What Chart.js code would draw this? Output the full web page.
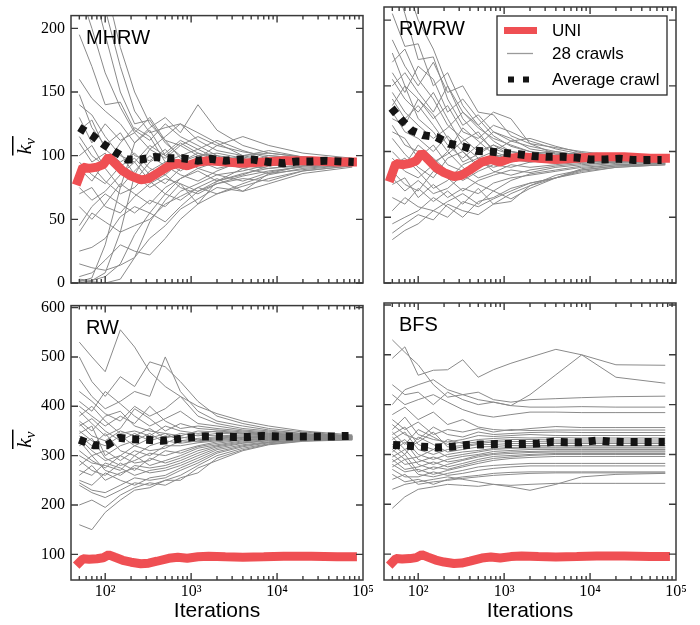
<!DOCTYPE html>
<html>
<head>
<meta charset="utf-8">
<script src="https://cdn.jsdelivr.net/npm/chart.js@4.4.0/dist/chart.umd.min.js"></script>
<style>
  body { margin: 0; background: #fff; width: 700px; height: 625px; position: relative; overflow: hidden; }
  canvas { position: absolute; }
</style>
</head>
<body>
<canvas id="cMHRW" width="385" height="300" style="left:0;top:0"></canvas>
<canvas id="cRWRW" width="324" height="300" style="left:376px;top:0"></canvas>
<canvas id="cRW" width="385" height="335" style="left:0;top:290px"></canvas>
<canvas id="cBFS" width="324" height="335" style="left:376px;top:290px"></canvas>
<script>
// iterations where the single crawls were sampled
const crawlX = [50, 70, 100, 150, 220, 330, 500, 750, 1200, 2000, 4000, 8000, 20000, 75000];

// UNI reference (same in every panel)
const uniX = [46, 55, 65, 80, 95, 110, 130, 160, 200, 260, 320, 400, 550, 700, 900, 1200, 1600, 2500, 4000, 7000, 12000, 25000, 50000, 85000];
const uniY = [77, 91, 90, 91, 93, 99, 94, 88, 84, 81, 82, 86, 92, 94, 92, 95, 96, 95, 94, 95, 96, 96, 95, 95];

// average crawl per panel
const mhrwAvgX = [50, 70, 95, 130, 180, 260, 380, 550, 800, 1200, 1700, 2500, 3600, 5300, 8000, 12000, 17000, 25000, 37000, 55000, 78000];
const mhrwAvgY = [122, 116, 109, 103, 97, 97, 99, 98, 98, 96, 97.5, 96, 97, 97, 95, 94, 95.5, 95.5, 96, 95.5, 95];
const rwrwAvgX = [49, 64, 84, 114, 164, 228, 330, 470, 684, 995, 1480, 2160, 3150, 4700, 6800, 10000, 14900, 21900, 32000, 47000, 68000];
const rwrwAvgY = [133, 124, 116, 112.5, 111, 106, 104, 100.6, 100, 99, 98, 96.6, 96, 96, 95.5, 94, 94, 94.6, 93.6, 93.6, 93.6];
const rwAvgX = [50, 74, 105, 145, 205, 306, 457, 660, 990, 1450, 2100, 3150, 4550, 6600, 10000, 14700, 21200, 31500, 46000, 68000];
const rwAvgY = [332, 321, 321, 336, 333, 332, 330, 333, 337, 339, 339, 338, 338, 340, 339, 339, 339, 339, 339, 340];
const bfsAvgX = [51, 76, 112, 164, 245, 366, 535, 790, 1170, 1700, 2500, 3750, 5400, 8000, 12000, 17000, 25000, 38000, 55000, 74000];
const bfsAvgY = [319, 317.5, 315.5, 314, 315.5, 319, 320, 321, 321, 321, 322, 325.5, 324.7, 324.7, 328, 326, 325, 325, 325, 325];

// 28 crawls per panel, values at crawlX
const mhrwCrawls = [
  [330, 290, 235, 185, 150, 125, 112, 108, 115, 108, 103, 100, 98, 96],
  [300, 260, 215, 170, 135, 118, 122, 125, 112, 104, 100, 102, 99, 97],
  [270, 235, 195, 150, 125, 128, 110, 100, 105, 112, 104, 98, 97, 95],
  [230, 200, 165, 138, 118, 105, 98, 108, 100, 95, 99, 95, 96, 94],
  [195, 170, 140, 142, 120, 112, 125, 115, 108, 100, 97, 94, 95, 95],
  [160, 145, 135, 125, 110, 122, 130, 118, 140, 120, 108, 102, 99, 97],
  [148, 122, 108, 118, 100, 96, 105, 92, 98, 108, 115, 108, 102, 98],
  [140, 132, 115, 100, 95, 108, 100, 110, 102, 96, 92, 98, 97, 96],
  [130, 110, 125, 112, 118, 130, 112, 98, 92, 95, 100, 96, 94, 95],
  [120, 128, 105, 95, 102, 90, 85, 95, 100, 102, 98, 93, 95, 96],
  [115, 100, 92, 110, 122, 115, 95, 88, 96, 90, 94, 100, 98, 97],
  [110, 95, 102, 88, 80, 95, 102, 112, 105, 98, 95, 92, 94, 94],
  [100, 108, 90, 75, 88, 100, 92, 85, 80, 88, 96, 98, 96, 95],
  [95, 85, 78, 92, 98, 85, 78, 90, 95, 100, 92, 90, 93, 94],
  [90, 80, 95, 102, 85, 75, 82, 78, 62, 80, 90, 95, 96, 95],
  [85, 92, 80, 70, 75, 88, 95, 100, 90, 85, 88, 93, 95, 96],
  [75, 65, 72, 85, 95, 80, 70, 65, 75, 82, 72, 86, 92, 94],
  [70, 75, 60, 55, 68, 78, 85, 75, 70, 78, 84, 88, 91, 93],
  [60, 50, 62, 78, 70, 62, 75, 82, 88, 80, 85, 92, 94, 95],
  [45, 60, 70, 62, 55, 65, 60, 72, 78, 85, 80, 87, 92, 94],
  [40, 55, 48, 40, 45, 50, 62, 68, 75, 70, 78, 85, 90, 93],
  [25, 28, 35, 52, 60, 55, 48, 60, 72, 78, 82, 80, 88, 92],
  [15, 12, 10, 14, 20, 35, 45, 58, 66, 75, 72, 78, 86, 91],
  [5, 8, 18, 30, 25, 22, 35, 50, 62, 70, 76, 82, 88, 92],
  [3, 2, 5, 15, 38, 55, 70, 82, 90, 95, 90, 86, 89, 93],
  [2, 1, 0, 3, 20, 48, 65, 78, 72, 80, 86, 90, 92, 94],
  [1, 4, 30, 75, 110, 120, 100, 95, 102, 98, 94, 97, 96, 95],
  [0, 2, 8, 40, 85, 105, 115, 125, 118, 110, 100, 104, 99, 97]
];
const rwrwCrawls = [
  [260, 230, 200, 178, 150, 130, 118, 110, 105, 100, 98, 96, 95, 94],
  [235, 205, 170, 172, 140, 120, 128, 115, 108, 104, 100, 97, 96, 95],
  [205, 180, 182, 150, 160, 135, 120, 130, 125, 106, 98, 99, 96, 94],
  [185, 165, 150, 168, 145, 150, 130, 128, 112, 106, 103, 100, 97, 95],
  [175, 150, 140, 125, 135, 115, 110, 120, 115, 108, 102, 98, 96, 95],
  [168, 178, 155, 140, 120, 110, 100, 105, 100, 98, 100, 97, 95, 94],
  [160, 145, 165, 155, 130, 140, 125, 112, 104, 100, 96, 95, 94, 93],
  [155, 140, 130, 145, 125, 105, 95, 100, 108, 110, 104, 99, 96, 95],
  [150, 160, 145, 130, 150, 125, 112, 102, 98, 95, 97, 96, 95, 94],
  [145, 130, 120, 110, 118, 130, 120, 108, 100, 97, 94, 93, 94, 94],
  [140, 125, 135, 120, 105, 95, 105, 115, 110, 102, 99, 97, 96, 95],
  [135, 150, 125, 115, 100, 118, 108, 98, 94, 92, 95, 96, 94, 93],
  [130, 115, 110, 100, 112, 100, 90, 95, 100, 98, 96, 95, 94, 94],
  [125, 120, 140, 128, 110, 92, 98, 105, 97, 94, 92, 94, 93, 93],
  [120, 105, 100, 92, 98, 108, 115, 100, 95, 96, 97, 95, 94, 93],
  [115, 110, 95, 105, 90, 85, 92, 88, 92, 95, 93, 92, 93, 93],
  [110, 98, 88, 80, 95, 100, 88, 92, 96, 93, 91, 93, 93, 94],
  [100, 90, 105, 95, 85, 78, 85, 90, 88, 92, 94, 93, 92, 93],
  [95, 85, 80, 90, 100, 88, 80, 84, 90, 88, 90, 92, 93, 92],
  [90, 95, 85, 72, 78, 90, 95, 85, 82, 86, 89, 91, 92, 93],
  [85, 75, 70, 85, 80, 70, 78, 82, 86, 84, 88, 90, 92, 92],
  [80, 70, 78, 68, 72, 82, 75, 70, 78, 83, 86, 89, 91, 92],
  [75, 80, 65, 75, 65, 72, 68, 76, 80, 82, 85, 88, 90, 91],
  [65, 60, 72, 62, 70, 60, 72, 60, 62, 74, 80, 87, 90, 91],
  [55, 65, 58, 55, 62, 68, 60, 70, 64, 72, 80, 86, 89, 90],
  [45, 50, 55, 65, 58, 50, 62, 65, 72, 76, 80, 85, 88, 90],
  [38, 45, 52, 48, 60, 55, 52, 60, 68, 74, 82, 86, 89, 91],
  [33, 40, 45, 55, 50, 62, 58, 64, 70, 76, 80, 84, 88, 90]
];
const rwCrawls = [
  [530, 500, 470, 555, 520, 470, 440, 420, 400, 385, 370, 360, 350, 342],
  [500, 450, 420, 460, 440, 490, 480, 450, 410, 380, 365, 355, 348, 340],
  [455, 420, 395, 410, 430, 420, 500, 430, 390, 370, 360, 352, 345, 340],
  [430, 410, 385, 370, 400, 380, 395, 420, 380, 365, 355, 350, 344, 339],
  [410, 390, 430, 405, 380, 360, 375, 390, 365, 360, 352, 348, 343, 340],
  [400, 380, 360, 380, 365, 400, 370, 355, 360, 355, 350, 346, 342, 338],
  [390, 365, 340, 355, 395, 375, 350, 365, 355, 352, 348, 345, 341, 339],
  [380, 400, 370, 345, 350, 340, 360, 350, 345, 350, 346, 344, 341, 338],
  [370, 350, 380, 390, 360, 350, 345, 340, 350, 348, 345, 343, 340, 339],
  [365, 340, 330, 350, 340, 355, 335, 345, 340, 345, 344, 342, 340, 338],
  [360, 375, 350, 330, 345, 330, 340, 335, 342, 340, 342, 341, 339, 338],
  [350, 330, 320, 340, 320, 335, 345, 330, 335, 338, 340, 340, 339, 337],
  [345, 360, 300, 320, 330, 345, 325, 338, 332, 336, 338, 339, 338, 337],
  [340, 320, 345, 310, 300, 320, 330, 325, 330, 334, 337, 338, 338, 337],
  [335, 310, 290, 300, 320, 310, 315, 330, 328, 332, 336, 337, 337, 336],
  [330, 300, 310, 290, 310, 300, 320, 320, 326, 330, 335, 336, 337, 336],
  [320, 335, 295, 280, 290, 305, 300, 310, 320, 328, 333, 335, 336, 336],
  [310, 290, 275, 300, 285, 290, 310, 305, 318, 325, 332, 334, 335, 335],
  [300, 285, 280, 270, 300, 280, 290, 300, 315, 322, 330, 333, 335, 335],
  [290, 270, 260, 285, 270, 295, 285, 295, 310, 320, 328, 332, 334, 335],
  [280, 300, 270, 260, 280, 275, 280, 290, 305, 318, 326, 331, 334, 334],
  [270, 260, 285, 275, 260, 270, 275, 285, 300, 315, 325, 330, 333, 334],
  [260, 280, 250, 265, 275, 265, 270, 280, 295, 312, 322, 328, 332, 334],
  [250, 240, 265, 250, 240, 255, 260, 275, 290, 308, 320, 327, 332, 333],
  [245, 230, 225, 240, 255, 250, 255, 270, 285, 305, 318, 326, 331, 333],
  [240, 225, 215, 230, 245, 240, 250, 260, 280, 300, 315, 324, 330, 333],
  [200, 210, 195, 220, 235, 245, 240, 255, 265, 295, 312, 323, 330, 332],
  [160, 150, 185, 210, 230, 235, 250, 250, 275, 290, 310, 322, 329, 332]
];
const bfsCrawls = [
  [493, 516, 459, 469, 470, 490, 455, 470, 483, 495, 511, 500, 480, 479],
  [530, 505, 480, 440, 415, 420, 410, 405, 398, 420, 460, 500, 455, 443],
  [400, 430, 440, 450, 430, 420, 425, 410, 405, 410, 412, 414, 416, 417],
  [440, 420, 425, 400, 425, 410, 400, 405, 398, 395, 395, 396, 395, 395],
  [420, 400, 410, 420, 405, 390, 380, 375, 380, 385, 385, 384, 384, 384],
  [380, 395, 370, 385, 360, 370, 355, 350, 348, 352, 356, 354, 354, 354],
  [370, 350, 365, 340, 350, 345, 352, 345, 350, 348, 349, 349, 349, 349],
  [360, 340, 330, 355, 340, 335, 345, 340, 342, 344, 345, 344, 344, 344],
  [350, 375, 340, 330, 325, 330, 338, 336, 338, 340, 338, 338, 338, 338],
  [345, 320, 350, 335, 320, 325, 330, 332, 334, 333, 334, 333, 333, 333],
  [340, 355, 320, 310, 330, 322, 325, 328, 330, 330, 329, 329, 329, 329],
  [335, 310, 325, 345, 315, 318, 322, 325, 326, 326, 325, 325, 325, 325],
  [330, 345, 310, 300, 310, 315, 320, 320, 322, 322, 322, 322, 322, 322],
  [320, 300, 335, 320, 305, 310, 315, 316, 318, 318, 318, 318, 318, 318],
  [315, 330, 300, 290, 300, 305, 308, 312, 314, 315, 315, 315, 315, 315],
  [310, 290, 295, 310, 295, 300, 305, 310, 312, 313, 313, 313, 313, 313],
  [305, 325, 290, 280, 290, 296, 300, 306, 308, 310, 310, 310, 310, 310],
  [300, 280, 285, 295, 285, 290, 298, 302, 305, 306, 307, 307, 307, 307],
  [295, 310, 280, 270, 280, 288, 295, 300, 302, 304, 305, 305, 305, 305],
  [290, 270, 275, 285, 275, 282, 290, 296, 298, 300, 302, 302, 302, 302],
  [285, 300, 265, 275, 270, 278, 286, 292, 295, 298, 300, 300, 300, 300],
  [280, 265, 270, 260, 268, 275, 282, 288, 292, 294, 296, 296, 296, 296],
  [275, 290, 260, 255, 262, 268, 275, 278, 280, 282, 282, 282, 282, 282],
  [270, 255, 255, 265, 258, 262, 268, 272, 275, 277, 277, 277, 277, 277],
  [260, 245, 250, 240, 250, 255, 258, 262, 264, 265, 265, 265, 265, 265],
  [250, 260, 240, 245, 248, 252, 255, 258, 260, 262, 263, 263, 263, 263],
  [230, 240, 245, 250, 255, 250, 245, 240, 235, 228, 240, 255, 260, 262],
  [192, 215, 230, 235, 240, 238, 236, 240, 238, 240, 242, 242, 242, 242]
];

const panelNames = ['MHRW', 'RWRW', 'RW', 'BFS'];
const legendLabels = ['UNI', '28 crawls', 'Average crawl'];
const yTicksTop = [0, 50, 100, 150, 200];
const yTicksBottom = [100, 200, 300, 400, 500, 600];
const supDigits = { 2: '\u00b2', 3: '\u00b3', 4: '\u2074', 5: '\u2075' };

const uniColor = '#ef4f53';
const crawlColor = '#8a8a8a';
const avgColor = '#141414';
const sansFont = '"Liberation Sans", Arial, Helvetica, sans-serif';
const serifFont = '"Liberation Serif", "Times New Roman", serif';

// log axis ticks: 40..90, 100..900, ... 100000
const xTickValues = [];
for (let e = 1; e <= 4; e++) {
  for (let m = 1; m <= 9; m++) {
    const v = m * Math.pow(10, e);
    if (v >= 40) xTickValues.push(v);
  }
}
xTickValues.push(100000);

function isDecade(v) {
  const e = Math.round(Math.log10(v));
  return Math.abs(v - Math.pow(10, e)) < 1e-6;
}

function pts(xs, ys) {
  return xs.map((x, i) => ({ x: x, y: ys[i] }));
}

// frame, inward ticks on all four sides, panel name, y title
const frameTicks = {
  id: 'frameTicks',
  afterDraw(chart, args, o) {
    const { ctx, chartArea: a } = chart;
    const x = chart.scales.x, y = chart.scales.y;
    ctx.save();
    ctx.strokeStyle = '#3a3a3a';
    ctx.lineWidth = 1.4;
    ctx.beginPath();
    x.ticks.forEach(t => {
      const px = x.getPixelForValue(t.value);
      if (px < a.left + 1 || px > a.right - 1) return;
      const len = isDecade(t.value) ? 7 : 4;
      ctx.moveTo(px, a.bottom); ctx.lineTo(px, a.bottom - len);
      ctx.moveTo(px, a.top); ctx.lineTo(px, a.top + len);
    });
    y.ticks.forEach(t => {
      const py = y.getPixelForValue(t.value);
      ctx.moveTo(a.left, py); ctx.lineTo(a.left + 7, py);
      ctx.moveTo(a.right, py); ctx.lineTo(a.right - 7, py);
    });
    ctx.stroke();
    ctx.lineWidth = 1.5;
    ctx.strokeRect(a.left, a.top, a.right - a.left, a.bottom - a.top);

    ctx.fillStyle = '#000';
    ctx.font = '20px ' + sansFont;
    ctx.textBaseline = 'alphabetic';
    ctx.textAlign = 'left';
    ctx.fillText(o.name, a.left + 15, a.top + 28);

    if (o.ytitle) {
      const cy = (a.top + a.bottom) / 2 - 3;
      ctx.translate(31, cy);
      ctx.rotate(-Math.PI / 2);
      ctx.font = 'italic 22px ' + serifFont;
      const kw = ctx.measureText('k').width;
      ctx.font = 'italic 15px ' + serifFont;
      const vw = ctx.measureText('v').width;
      const x0 = -(kw + vw) / 2;
      ctx.font = 'italic 22px ' + serifFont;
      ctx.fillText('k', x0, 0);
      ctx.font = 'italic 15px ' + serifFont;
      ctx.fillText('v', x0 + kw, 4);
      ctx.fillRect(x0 - 1, -19, kw + vw + 3, 1.5);
    }
    ctx.restore();
  }
};

// legend box inside the RWRW panel
const legendBox = {
  id: 'legendBox',
  afterDraw(chart) {
    const { ctx, chartArea: a } = chart;
    const bx = a.left + 113, by = a.top + 9, w = 170, h = 79;
    ctx.save();
    ctx.fillStyle = '#fff';
    ctx.fillRect(bx, by, w, h);
    ctx.strokeStyle = '#2a2a2a';
    ctx.lineWidth = 1.3;
    ctx.strokeRect(bx, by, w, h);

    const rows = [
      { y: by + 14.5, x1: bx + 7, x2: bx + 40, color: uniColor, width: 7, dash: [] },
      { y: by + 37.5, x1: bx + 10, x2: bx + 36, color: '#9a9a9a', width: 1.3, dash: [] },
      { y: by + 63.5, x1: bx + 11, x2: bx + 33, color: avgColor, width: 6, dash: [6, 9] }
    ];
    rows.forEach((r, i) => {
      ctx.beginPath();
      ctx.setLineDash(r.dash);
      ctx.strokeStyle = r.color;
      ctx.lineWidth = r.width;
      ctx.lineCap = 'butt';
      ctx.moveTo(r.x1, r.y);
      ctx.lineTo(r.x2, r.y);
      ctx.stroke();
      ctx.setLineDash([]);
      ctx.fillStyle = '#000';
      ctx.font = '17px ' + sansFont;
      ctx.textBaseline = 'middle';
      ctx.fillText(legendLabels[i], bx + 55, r.y + 1);
    });
    ctx.restore();
  }
};

function makePanel(id, o) {
  const datasets = [];
  datasets.push({
    label: legendLabels[2], data: pts(o.avgX, o.avgY),
    borderColor: avgColor, borderWidth: 8, borderDash: [7, 7], borderCapStyle: 'butt',
    pointRadius: 0, order: 0
  });
  datasets.push({
    label: legendLabels[0], data: pts(uniX, uniY),
    borderColor: uniColor, borderWidth: 9, borderJoinStyle: 'bevel',
    pointRadius: 0, order: 1
  });
  o.crawls.forEach(c => {
    datasets.push({
      label: legendLabels[1], data: pts(crawlX, c),
      borderColor: crawlColor, borderWidth: 1, pointRadius: 0, order: 2
    });
  });

  const plugins = [frameTicks];
  if (o.legend) plugins.push(legendBox);

  return new Chart(document.getElementById(id), {
    type: 'line',
    data: { datasets: datasets },
    plugins: plugins,
    options: {
      responsive: false,
      animation: false,
      layout: { padding: o.pad },
      plugins: {
        legend: { display: false },
        tooltip: { enabled: false },
        frameTicks: { name: o.name, ytitle: o.ytitle }
      },
      scales: {
        x: {
          type: 'logarithmic', min: 40, max: 100000,
          afterBuildTicks: s => { s.ticks = xTickValues.map(v => ({ value: v })); },
          afterFit: s => { s.height = o.xh; },
          grid: { display: false, drawTicks: false },
          border: { display: false },
          ticks: {
            display: o.bottom, autoSkip: false, maxRotation: 0, padding: 2,
            color: '#000', font: { family: serifFont, size: 16 },
            callback: v => {
              if (!isDecade(v)) return '';
              const e = Math.round(Math.log10(v));
              return supDigits[e] ? '10' + supDigits[e] : '';
            }
          },
          title: {
            display: o.bottom, text: 'Iterations', color: '#000',
            font: { family: sansFont, size: 21 }, padding: { top: 0, bottom: 1 }
          }
        },
        y: {
          type: 'linear', min: o.ymin, max: o.ymax,
          afterBuildTicks: s => { s.ticks = o.yTicks.map(v => ({ value: v })); },
          afterFit: s => { s.width = o.yw; },
          grid: { display: false, drawTicks: false },
          border: { display: false },
          ticks: {
            display: o.ytitle, padding: 6, color: '#000',
            font: { family: serifFont, size: 16 }
          }
        }
      }
    }
  });
}

makePanel('cMHRW', {
  name: panelNames[0], crawls: mhrwCrawls, avgX: mhrwAvgX, avgY: mhrwAvgY,
  ymin: 0, ymax: 210, yTicks: yTicksTop, ytitle: true, bottom: false, legend: false,
  yw: 71, xh: 17, pad: { top: 7, right: 22, left: 0, bottom: 0 }
});
makePanel('cRWRW', {
  name: panelNames[1], crawls: rwrwCrawls, avgX: rwrwAvgX, avgY: rwrwAvgY,
  ymin: 0, ymax: 210, yTicks: yTicksTop, ytitle: false, bottom: false, legend: true,
  yw: 8, xh: 17, pad: { top: 7, right: 24, left: 0, bottom: 0 }
});
makePanel('cRW', {
  name: panelNames[2], crawls: rwCrawls, avgX: rwAvgX, avgY: rwAvgY,
  ymin: 48, ymax: 604, yTicks: yTicksBottom, ytitle: true, bottom: true, legend: false,
  yw: 71, xh: 45, pad: { top: 13, right: 22, left: 0, bottom: 0 }
});
makePanel('cBFS', {
  name: panelNames[3], crawls: bfsCrawls, avgX: bfsAvgX, avgY: bfsAvgY,
  ymin: 48, ymax: 604, yTicks: yTicksBottom, ytitle: false, bottom: true, legend: false,
  yw: 8, xh: 45, pad: { top: 13, right: 24, left: 0, bottom: 0 }
});
</script>
</body>
</html>
